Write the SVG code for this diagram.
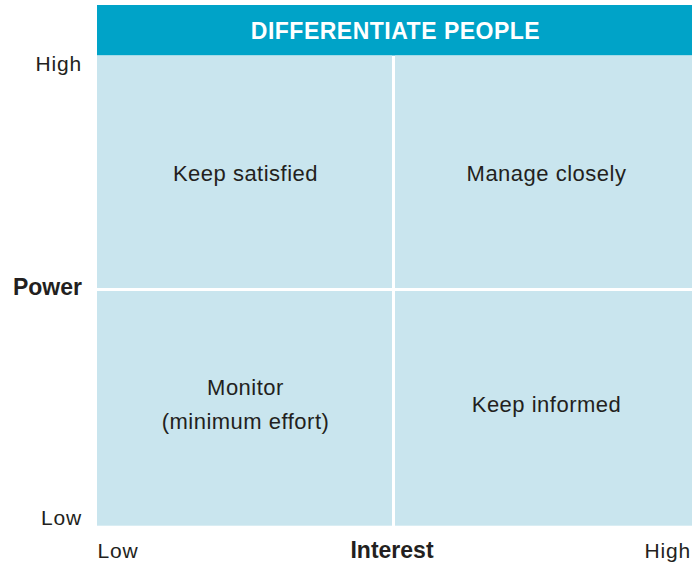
<svg xmlns="http://www.w3.org/2000/svg" width="692" height="564" viewBox="0 0 692 564">
<style>
.t{font-family:"Liberation Sans",Arial,sans-serif;font-size:21px;fill:#231f20;letter-spacing:0.8px}
.c{font-family:"Liberation Sans",Arial,sans-serif;font-size:22px;fill:#231f20;letter-spacing:0.5px}
.b{font-family:"Liberation Sans",Arial,sans-serif;font-size:23px;font-weight:bold;fill:#231f20}
.h{font-family:"Liberation Sans",Arial,sans-serif;font-size:23px;font-weight:bold;fill:#ffffff;letter-spacing:0.5px}
.q{fill:#c9e5ee}
</style>
<rect width="692" height="564" fill="#ffffff"/>
<g id="header">
<rect x="97" y="5" width="595" height="50.5" fill="#00a3c8"/>
<text class="h" x="395.5" y="39" text-anchor="middle">DIFFERENTIATE PEOPLE</text>
</g>
<g id="quad-keep-satisfied">
<rect class="q" x="97" y="55.5" width="295" height="232.5"/>
<text class="c" x="245.5" y="181" text-anchor="middle">Keep satisfied</text>
</g>
<g id="quad-manage-closely">
<rect class="q" x="395" y="55.5" width="297" height="232.5"/>
<text class="c" x="546.5" y="181" text-anchor="middle">Manage closely</text>
</g>
<g id="quad-monitor">
<rect class="q" x="97" y="291" width="295" height="234.7"/>
<text class="c" x="245.5" y="395" text-anchor="middle">Monitor</text>
<text class="c" x="245.5" y="429" text-anchor="middle">(minimum effort)</text>
</g>
<g id="quad-keep-informed">
<rect class="q" x="395" y="291" width="297" height="234.7"/>
<text class="c" x="546.5" y="412" text-anchor="middle">Keep informed</text>
</g>
<g id="axis-labels">
<text class="t" x="82" y="71" text-anchor="end">High</text>
<text class="b" x="82" y="295" text-anchor="end">Power</text>
<text class="t" x="82" y="525" text-anchor="end">Low</text>
<text class="t" x="97.5" y="558">Low</text>
<text class="b" x="392" y="557.5" text-anchor="middle">Interest</text>
<text class="t" x="691" y="558" text-anchor="end">High</text>
</g>
</svg>
